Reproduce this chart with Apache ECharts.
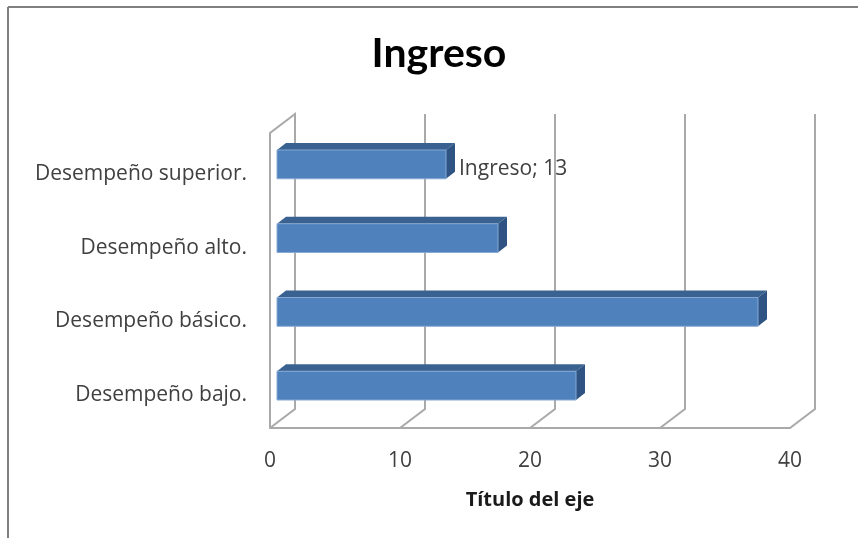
<!DOCTYPE html>
<html>
<head>
<meta charset="utf-8">
<style>html,body{margin:0;padding:0;background:#fff}#c{width:858px;height:538px}</style>
<script src="https://cdn.jsdelivr.net/npm/echarts@6/dist/echarts.min.js"></script>
</head>
<body>
<div id="c"></div>
<script>
const titleText = "Ingreso";
const axisTitle = "Título del eje";
const seriesName = "Ingreso";
const categories = ["Desempeño bajo.", "Desempeño básico.", "Desempeño alto.", "Desempeño superior."];
const values = [23, 37, 17, 13];
const labelled = [false, false, false, true];
const ticks = [0, 10, 20, 30, 40];

const FONT = "'Open Sans', Lato, sans-serif";
const GRID = "#a9a9a9";
const WALL = {dx: 25, dy: -19};
const BAR = {dx: 7, dy: -5.5, depthX: 9, depthY: -7, ratio: 0.39};

const chart = echarts.init(document.getElementById("c"), null, {renderer: "canvas"});

function renderWall(params, api) {
  const v = api.value(0);
  const cs = params.coordSys;
  const x = api.coord([v, 0])[0];
  const bottom = cs.y + cs.height, top = cs.y;
  const style = {stroke: GRID, lineWidth: 2, fill: null};
  const points = [[x, bottom], [x + WALL.dx, bottom + WALL.dy], [x + WALL.dx, top + WALL.dy]];
  if (v === ticks[0]) points.push([x, top], [x, bottom]);
  return {type: "polyline", shape: {points}, style, silent: true};
}

function renderBar(params, api) {
  const v = api.value(0), c = api.value(1);
  const p0 = api.coord([0, c]), p1 = api.coord([v, c]);
  const h = api.size([0, 1])[1] * BAR.ratio;
  const x0 = p0[0] + BAR.dx, x1 = p1[0] + BAR.dx;
  const y0 = p0[1] + BAR.dy - h / 2, y1 = y0 + h;
  const dx = BAR.depthX, dy = BAR.depthY;
  const children = [
    {type: "polygon", shape: {points: [[x0, y0], [x1, y0], [x1 + dx, y0 + dy], [x0 + dx, y0 + dy]]},
      style: {fill: "#3a6291"}},
    {type: "polygon", shape: {points: [[x1, y0], [x1 + dx, y0 + dy], [x1 + dx, y1 + dy], [x1, y1]]},
      style: {fill: "#2f5483"}},
    {type: "rect", shape: {x: x0, y: y0, width: x1 - x0, height: h},
      style: {fill: "#4f81bd", stroke: "#86a8d3", lineWidth: 1}}
  ];
  if (labelled[params.dataIndex]) {
    children.push({type: "text", style: {
      x: x1 + dx + 4, y: (y0 + y1) / 2 + 5, text: seriesName + "; " + v,
      fill: "#404040", font: "21px " + FONT, textAlign: "left", textVerticalAlign: "middle"
    }});
  }
  return {type: "group", children};
}

chart.setOption({
  animation: false,
  backgroundColor: "#ffffff",
  title: {
    text: titleText, left: 434, top: 28, textAlign: "center",
    textStyle: {fontFamily: "Lato, sans-serif", fontSize: 41, fontWeight: "bold", color: "#000000"}
  },
  grid: {left: 270, right: 68, top: 133, bottom: 110, containLabel: false},
  xAxis: {
    type: "value", min: 0, max: 40, interval: 10,
    name: axisTitle, nameLocation: "middle", nameGap: 62,
    nameTextStyle: {fontFamily: FONT, fontSize: 20, fontWeight: "bold", color: "#1a1a1a"},
    axisLine: {show: true, lineStyle: {color: GRID, width: 2}},
    axisTick: {show: false},
    splitLine: {show: false},
    axisLabel: {fontFamily: FONT, fontSize: 21, color: "#404040", margin: 23, formatter: function (v) { return String(v); }}
  },
  yAxis: {
    type: "category", data: categories,
    axisLine: {show: false},
    axisTick: {show: false},
    splitLine: {show: false},
    axisLabel: {fontFamily: FONT, fontSize: 21, color: "#404040", margin: 23, verticalAlign: "top", lineHeight: 8}
  },
  series: [
    {type: "custom", name: "walls", coordinateSystem: "cartesian2d", renderItem: renderWall,
      data: ticks.map(t => [t, 0]), z: 1, silent: true, clip: false},
    {type: "custom", name: seriesName, coordinateSystem: "cartesian2d", renderItem: renderBar,
      data: values.map((v, i) => [v, i]), z: 3, clip: false}
  ],
  graphic: [
    {type: "line", shape: {x1: 8, y1: 7, x2: 858, y2: 7}, style: {stroke: "#7f7f7f", lineWidth: 2}, silent: true},
    {type: "line", shape: {x1: 8, y1: 7, x2: 8, y2: 538}, style: {stroke: "#7f7f7f", lineWidth: 2}, silent: true}
  ]
});
</script>
</body>
</html>
